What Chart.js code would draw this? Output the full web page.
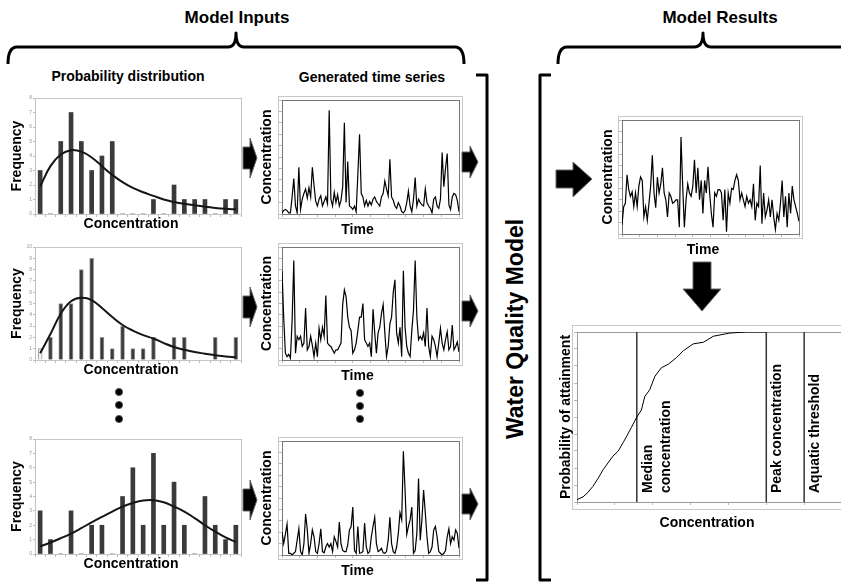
<!DOCTYPE html>
<html>
<head>
<meta charset="utf-8">
<script src="https://cdn.jsdelivr.net/npm/chart.js@4.4.1/dist/chart.umd.min.js"></script>
<style>
html, body { margin: 0; padding: 0; background: #fff; overflow: hidden; }
#page { position: relative; width: 841px; height: 584px; overflow: hidden;
        font-family: "Liberation Sans", Arial, sans-serif; font-weight: bold; color: #000; }
.box { position: absolute; }
.frame { position: absolute; border: 1px solid #c8c8c8; box-sizing: border-box; }
.lbl { position: absolute; white-space: nowrap; transform: translate(-50%, -50%); }
canvas { display: block; }
svg { position: absolute; left: 0; top: 0; pointer-events: none; }
</style>
</head>
<body>
<div id="page">
  <div class="lbl" style="left:237px;top:18px;font-size:17px">Model Inputs</div>
  <div class="lbl" style="left:720px;top:18px;font-size:17px">Model Results</div>
  <div class="lbl" style="left:128px;top:76px;font-size:14px">Probability distribution</div>
  <div class="lbl" style="left:372px;top:77px;font-size:14px">Generated time series</div>
  <div class="lbl" style="left:515px;top:329px;font-size:23px;transform:translate(-50%,-50%) rotate(-90deg)">Water Quality Model</div>

  <div class="frame" style="left:278px;top:96px;width:185px;height:123px"></div>
  <div class="frame" style="left:278px;top:243px;width:185px;height:123px"></div>
  <div class="frame" style="left:278px;top:437px;width:185px;height:123px"></div>
  <div class="frame" style="left:618px;top:116px;width:185px;height:123px"></div>
  <div class="frame" style="left:572px;top:325px;width:290px;height:185px"></div>

  <div class="box" style="left:0;top:90px"><canvas id="hist1" width="262" height="141"></canvas></div>
  <div class="box" style="left:0;top:238px"><canvas id="hist2" width="262" height="139"></canvas></div>
  <div class="box" style="left:0;top:431px"><canvas id="hist3" width="262" height="140"></canvas></div>
  <div class="box" style="left:250px;top:92px"><canvas id="ts1" width="215" height="145"></canvas></div>
  <div class="box" style="left:250px;top:239px"><canvas id="ts2" width="215" height="144"></canvas></div>
  <div class="box" style="left:250px;top:433px"><canvas id="ts3" width="215" height="145"></canvas></div>
  <div class="box" style="left:595px;top:112px"><canvas id="result" width="216" height="145"></canvas></div>
  <div class="box" style="left:552px;top:324px"><canvas id="cdf" width="310" height="206"></canvas></div>

  <svg width="841" height="584" viewBox="0 0 841 584">
    <g fill="none" stroke="#000" stroke-width="3" stroke-linejoin="round">
      <path d="M8,64 Q8,47 17,47 L228,47 Q236,47 236,33 Q236,47 244,47 L455,47 Q464,47 464,64"/>
      <path d="M558,64 Q558,47 567,47 L694,47 Q703,47 703,33 Q703,47 711,47 L850,47"/>
      <path d="M476,75 L487,75 L487,580 L476,580"/>
      <path d="M551,75 L540,75 L540,580 L551,580"/>
    </g>
    <g fill="#000" stroke="#666" stroke-width="1">
      <polygon points="243,147 250,147 250,138 257,158 250,178 250,169 243,169"/>
      <polygon points="243,296 250,296 250,287 257,307 250,327 250,318 243,318"/>
      <polygon points="243,489 250,489 250,480 257,500 250,520 250,511 243,511"/>
      <polygon points="462,152 470,152 470,146 478,162 470,178 470,172 462,172"/>
      <polygon points="462,301 470,301 470,295 478,311 470,327 470,321 462,321"/>
      <polygon points="462,494 470,494 470,488 478,504 470,520 470,514 462,514"/>
      <polygon points="556,170 573,170 573,162 592,179 573,197 573,188 556,188"/>
      <polygon points="693,262 711,262 711,289 721,289 702,311 683,289 693,289"/>
    </g>
    <g fill="#000" stroke="#555" stroke-width="1">
      <circle cx="119" cy="392" r="3.6"/>
      <circle cx="119" cy="405" r="3.6"/>
      <circle cx="119" cy="419" r="3.6"/>
      <circle cx="360" cy="393" r="3.6"/>
      <circle cx="360" cy="406" r="3.6"/>
      <circle cx="360" cy="419" r="3.6"/>
    </g>
  </svg>
</div>

<script>
// ---- data ----
const binLabels = ['1','2','3','4','5','6','7','8','9','10','11','12','13','14','15','16','17','18','19','20'];

const hist1Counts = [3, 0, 5, 7, 5, 3, 4, 5, 0, 0, 0, 1, 0, 2, 1, 1, 1, 0, 1, 1];
const hist1Fit    = [1.9, 3.3, 4.1, 4.4, 4.3, 3.9, 3.3, 2.7, 2.2, 1.8, 1.5, 1.25, 1.0, 0.83, 0.7, 0.6, 0.5, 0.42, 0.36, 0.32];

const hist2Counts = [1, 2, 5, 5, 8, 9, 2, 1, 3, 1, 1, 2, 0, 2, 2, 0, 0, 2, 0, 2];
const hist2Fit    = [0.6, 2.3, 4.1, 5.2, 5.5, 5.3, 4.6, 3.8, 3.1, 2.6, 2.2, 1.9, 1.5, 1.15, 0.9, 0.7, 0.56, 0.42, 0.32, 0.24];

const hist3Counts = [3, 1, 0, 3, 0, 2, 2, 0, 4, 6, 2, 7, 2, 5, 2, 0, 4, 2, 1, 2];
const hist3Fit    = [0.53, 0.8, 1.1, 1.42, 1.8, 2.2, 2.58, 2.95, 3.3, 3.55, 3.72, 3.74, 3.6, 3.3, 2.95, 2.5, 2.0, 1.55, 1.15, 0.84];

const series1 = [
  0.1, 0.3, 0.4, 0.3, 0.1, 0.1, 1.5, 3.1, 0.7, 0.1,
  4.1, 0.4, 1.3, 1.8, 2.2, 1.4, 2.3, 1.5, 4.1, 2.5,
  1.1, 0.7, 1.3, 1.6, 0.7, 1.1, 1.5, 0.9, 9.1, 1.3,
  0.7, 1.9, 1.0, 1.7, 0.7, 1.2, 2.4, 8.0, 1.0, 4.6,
  0.7, 0.6, 0.4, 0.7, 0.2, 3.5, 7.0, 1.8, 1.5, 0.7,
  1.2, 0.7, 1.1, 0.8, 1.3, 1.5, 1.1, 0.9, 0.7, 1.5,
  1.8, 2.9, 2.2, 1.6, 4.8, 1.5, 1.2, 0.7, 0.5, 1.0,
  0.7, 0.2, 0.1, 0.3, 1.0, 2.0, 0.7, 0.2, 1.3, 3.2,
  0.7, 1.3, 1.0, 0.8, 0.7, 2.2, 1.0, 0.7, 0.5, 0.1,
  1.3, 1.5, 0.7, 0.5, 1.3, 5.4, 2.4, 4.0, 5.3, 0.8,
  0.4, 1.5, 1.8, 1.7, 1.2, 0.2
];

const series2 = [
  7.9, 3.8, 0.6, 0.3, 0.5, 0.15, 3.5, 8.8, 0.6, 2.1,
  1.8, 2.1, 1.2, 1.5, 4.6, 0.9, 1.2, 2.1, 1.3, 0.3,
  1.5, 0.3, 2.8, 1.8, 2.9, 2.1, 5.7, 1.5, 1.3, 1.2,
  0.9, 0.6, 0.9, 0.9, 1.2, 1.5, 4.9, 6.2, 5.6, 3.8,
  2.9, 2.6, 0.6, 0.9, 1.5, 2.6, 3.8, 3.8, 5.0, 1.8,
  1.5, 1.2, 1.5, 0.3, 4.5, 2.4, 0.6, 2.4, 2.9, 4.1,
  4.9, 2.4, 0.3, 1.2, 3.2, 3.8, 6.0, 7.1, 2.4, 1.5,
  2.9, 0.3, 7.9, 2.9, 1.2, 0.6, 0.3, 2.6, 4.4, 8.8,
  3.8, 1.8, 2.1, 1.8, 2.4, 1.2, 4.6, 1.2, 0.3, 2.1,
  1.8, 1.2, 0.3, 1.5, 2.8, 1.5, 0.9, 1.8, 2.5, 0.9,
  1.2, 3.1, 0.9, 1.2, 1.6, 0.7
];

const series3 = [
  2.0, 1.0, 1.8, 2.7, 0.15, 0.15, 0.0, 0.15, 0.3, 1.3,
  2.3, 0.3, 0.0, 1.0, 3.6, 2.2, 0.15, 1.0, 2.2, 1.6,
  0.3, 0.15, 1.0, 2.3, 0.3, 0.2, 0.7, 1.0, 0.7, 1.0,
  0.3, 1.6, 1.2, 0.7, 2.9, 1.0, 0.4, 0.3, 0.3, 0.9,
  2.2, 2.5, 4.2, 0.4, 0.15, 2.5, 0.15, 0.2, 0.3, 2.8,
  0.7, 0.15, 0.3, 1.6, 2.5, 3.3, 1.0, 0.3, 0.4, 0.6,
  0.2, 0.15, 0.3, 1.3, 3.3, 1.0, 0.3, 0.15, 0.7, 1.9,
  3.7, 3.1, 9.1, 5.7, 1.8, 2.5, 3.1, 4.2, 0.15, 0.4,
  1.9, 6.7, 1.3, 3.1, 5.7, 3.7, 1.6, 0.15, 0.3, 0.7,
  2.2, 2.5, 1.6, 0.3, 0.15, 0.0, 0.15, 0.4, 1.6, 2.3,
  1.0, 1.6, 1.3, 2.2, 1.9, 0.6
];

const resultSeries = [
  0.8, 2.4, 2.7, 5.2, 3.9, 3.3, 3.7, 2.4, 3.6, 2.4,
  4.2, 5.0, 4.7, 1.5, 2.4, 1.2, 2.7, 4.2, 6.9, 3.6,
  2.3, 5.0, 3.6, 4.4, 5.8, 3.6, 3.0, 1.5, 3.6, 3.3,
  2.7, 2.8, 3.0, 3.0, 0.6, 8.5, 4.2, 0.6, 3.0, 4.4,
  3.6, 3.3, 4.2, 6.5, 3.6, 5.8, 3.0, 4.7, 1.8, 4.7,
  3.6, 5.9, 3.6, 1.8, 0.6, 3.6, 3.3, 3.9, 3.9, 3.6,
  1.2, 3.9, 0.2, 3.6, 2.7, 4.0, 3.9, 4.7, 5.2, 4.7,
  3.0, 3.6, 3.0, 2.4, 3.3, 2.7, 3.0, 2.4, 4.4, 1.2,
  2.7, 2.4, 6.0, 0.9, 3.6, 1.5, 2.1, 3.0, 1.5, 3.0,
  1.5, 0.4, 1.8, 1.2, 2.7, 4.7, 1.5, 3.3, 0.6, 3.6,
  1.8, 4.2, 3.0, 2.4, 1.8, 1.1
];

const cdfConc = [0, 0.16, 0.29, 0.42, 0.56, 0.69, 0.82, 0.95, 1.09, 1.22, 1.32, 1.44, 1.58, 1.70, 1.79, 1.92, 2.06, 2.23, 2.41, 2.63, 2.81, 3.07, 3.34, 3.60, 4.04, 4.48, 5.0];
const cdfProb = [0.014, 0.03, 0.057, 0.092, 0.14, 0.19, 0.23, 0.27, 0.30, 0.35, 0.39, 0.44, 0.50, 0.54, 0.62, 0.66, 0.74, 0.79, 0.81, 0.85, 0.89, 0.93, 0.94, 0.975, 0.994, 1.0, 1.0];

const markerValues = [1.58, 5.0, 6.0];
const markerLabels = [['Median', 'concentration'], ['Peak concentration'], ['Aquatic threshold']];

// ---- drawing ----
const FONT = '"Liberation Sans", Arial, sans-serif';
Chart.defaults.font.family = FONT;
Chart.defaults.color = '#000';

const plotFrame = {
  id: 'plotFrame',
  beforeDatasetsDraw(chart, args, opts) {
    const { ctx, chartArea: a } = chart;
    ctx.save();
    ctx.strokeStyle = opts.color;
    ctx.lineWidth = 1;
    ctx.strokeRect(Math.round(a.left) + 0.5, Math.round(a.top) + 0.5,
                   Math.round(a.right - a.left), Math.round(a.bottom - a.top));
    ctx.restore();
  }
};

const markerText = {
  id: 'markerText',
  afterDatasetsDraw(chart, args, opts) {
    if (!opts.show) return;
    const { ctx, chartArea, scales } = chart;
    ctx.save();
    ctx.font = 'bold 14px ' + FONT;
    ctx.fillStyle = '#000';
    ctx.textAlign = 'left';
    ctx.textBaseline = 'middle';
    markerValues.forEach((v, i) => {
      const px = scales.x.getPixelForValue(v);
      markerLabels[i].forEach((line, j) => {
        ctx.save();
        ctx.translate(px + 11 + j * 18.5, chartArea.bottom - 9);
        ctx.rotate(-Math.PI / 2);
        ctx.fillText(line, 0, 0);
        ctx.restore();
      });
    });
    ctx.restore();
  }
};
Chart.register(plotFrame, markerText);

const titleFont = { size: 14, weight: 'bold', lineHeight: 1 };

function spacer(w) {
  return {
    type: 'linear', position: 'right', display: true,
    grid: { display: false, drawTicks: false }, border: { display: false },
    ticks: { display: false },
    afterFit: s => { s.width = w; }
  };
}

function baseOptions(padTop, bottomTitle, frameColor) {
  return {
    responsive: false,
    animation: false,
    events: [],
    layout: { padding: { top: padTop, left: 0, right: 0, bottom: 0 } },
    plugins: {
      legend: { display: false },
      tooltip: { enabled: false },
      title: { display: true, position: 'bottom', text: bottomTitle, font: titleFont,
               color: '#000', padding: { top: 0, bottom: 0 } },
      plotFrame: { color: frameColor },
      markerText: { show: false }
    }
  };
}

function histogram(id, counts, fit, yMax, padTop, lightFirst) {
  const colors = counts.map(() => '#3a3a3a');
  if (lightFirst) colors[0] = '#f2f2f2';
  const opts = baseOptions(padTop, 'Concentration', '#c4c4c4');
  opts.scales = {
    x: {
      grid: { drawOnChartArea: false, tickLength: 3, color: '#bbb' },
      border: { color: '#aaa' },
      ticks: { display: false },
      afterFit: s => { s.height = 3; }
    },
    y: {
      min: 0, max: yMax,
      ticks: { stepSize: 1, font: { size: 5 }, color: '#999', padding: 1 },
      grid: { drawOnChartArea: false, tickLength: 2, color: '#bbb' },
      border: { color: '#aaa' },
      title: { display: true, text: 'Frequency', font: titleFont, color: '#000', padding: { top: 10, bottom: 0 } },
      afterFit: s => { s.width = 35; }
    },
    y2: spacer(21)
  };
  return new Chart(document.getElementById(id), {
    type: 'bar',
    data: {
      labels: binLabels,
      datasets: [
        { type: 'line', data: fit, borderColor: '#151515', borderWidth: 2, pointRadius: 0, tension: 0.4, order: 0 },
        { type: 'bar', data: counts, backgroundColor: colors, borderColor: lightFirst ? ['#999'] : colors,
          borderWidth: lightFirst ? 1 : 0, barThickness: 4, order: 1 }
      ]
    },
    options: opts
  });
}

function timeSeries(id, values, padTop, yTitlePad, yWidth, rightWidth) {
  const opts = baseOptions(padTop, 'Time', '#777');
  opts.scales = {
    x: {
      type: 'linear', min: 0, max: values.length - 1,
      ticks: { display: false, stepSize: (values.length - 1) / 10 },
      grid: { drawOnChartArea: false, tickLength: 3, color: '#bbb' },
      border: { color: '#999' },
      afterFit: s => { s.height = 9; }
    },
    y: {
      min: 0, max: 10,
      ticks: { display: false, stepSize: 1 },
      grid: { drawOnChartArea: false, tickLength: 3, color: '#bbb' },
      border: { color: '#999' },
      title: { display: true, text: 'Concentration', font: titleFont, color: '#000', padding: { top: yTitlePad, bottom: 0 } },
      afterFit: s => { s.width = yWidth; }
    },
    y2: spacer(rightWidth)
  };
  return new Chart(document.getElementById(id), {
    type: 'line',
    data: {
      labels: values.map((v, i) => i),
      datasets: [{ data: values, borderColor: '#000', borderWidth: 1.2, pointRadius: 0, tension: 0 }]
    },
    options: opts
  });
}

histogram('hist1', hist1Counts, hist1Fit, 8, 8, false);
histogram('hist2', hist2Counts, hist2Fit, 10, 9, true);
histogram('hist3', hist3Counts, hist3Fit, 8, 8, false);

timeSeries('ts1', series1, 8, 9.7, 32, 6);
timeSeries('ts2', series2, 8, 9.7, 32, 6);
timeSeries('ts3', series3, 8, 9.7, 32, 6);
timeSeries('result', resultSeries, 8, 6.3, 27, 12);

// cumulative distribution with marker lines
const cdfOpts = baseOptions(8, 'Concentration', '#999');
cdfOpts.plugins.markerText = { show: true };
cdfOpts.scales = {
  x: {
    type: 'linear', min: 0, max: 7,
    ticks: { display: false, stepSize: 1 },
    grid: { drawOnChartArea: false, tickLength: 3, color: '#bbb' },
    border: { color: '#999' },
    afterFit: s => { s.height = 14; }
  },
  y: {
    min: 0, max: 1,
    ticks: { display: false, stepSize: 0.1 },
    grid: { drawOnChartArea: false, tickLength: 3, color: '#bbb' },
    border: { color: '#999' },
    title: { display: true, text: 'Probability of attainment', font: titleFont, color: '#000', padding: { top: 7, bottom: 0 } },
    afterFit: s => { s.width = 25; }
  },
  y2: spacer(20)
};
new Chart(document.getElementById('cdf'), {
  type: 'line',
  data: {
    datasets: [
      { data: cdfConc.map((c, i) => ({ x: c, y: cdfProb[i] })), borderColor: '#000', borderWidth: 1, pointRadius: 0, tension: 0 },
      ...markerValues.map(v => ({
        data: [{ x: v, y: 0 }, { x: v, y: 1 }], borderColor: '#333', borderWidth: 1.5, pointRadius: 0
      }))
    ]
  },
  options: cdfOpts
});
</script>
</body>
</html>
